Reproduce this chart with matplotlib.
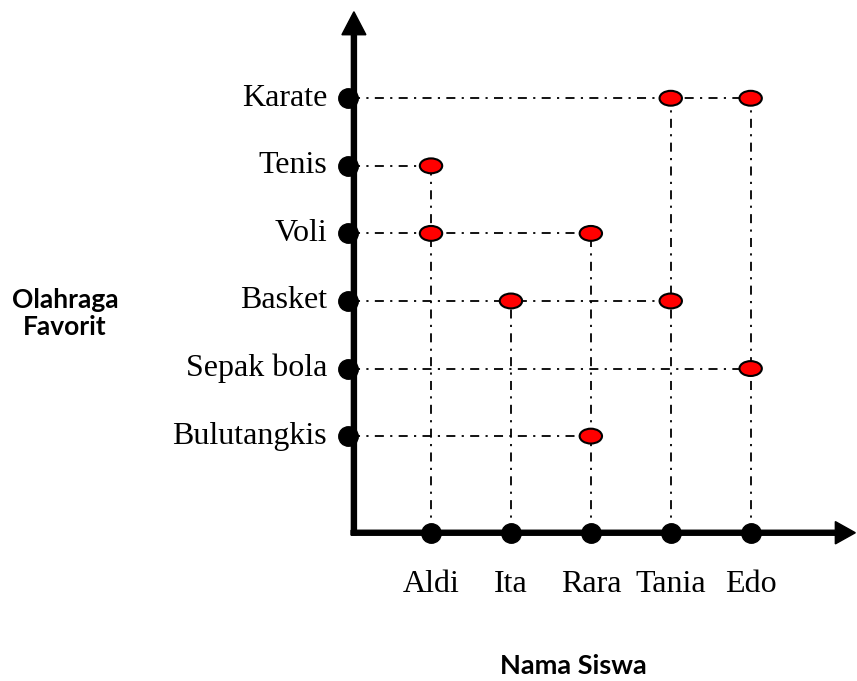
import matplotlib.pyplot as plt
from matplotlib.patches import Ellipse

# siswa (sumbu x) dan olahraga (sumbu y, dari bawah ke atas)
students = ["Aldi", "Ita", "Rara", "Tania", "Edo"]
sports = ["Bulutangkis", "Sepak bola", "Basket", "Voli", "Tenis", "Karate"]

# pasangan siswa -> olahraga favorit
pick_student = ["Aldi", "Aldi", "Ita", "Rara", "Rara", "Tania", "Tania", "Edo", "Edo"]
pick_sport = ["Tenis", "Voli", "Basket", "Voli", "Bulutangkis", "Karate", "Basket", "Karate", "Sepak bola"]

fig = plt.figure(figsize=(8.57, 6.81), dpi=100)
ax = fig.add_axes([0, 0, 1, 1])
ax.set_xlim(-4.394, 6.331)
ax.set_ylim(-2.624, 7.454)
ax.axis("off")

xs = {s: i + 1 for i, s in enumerate(students)}
ys = {s: i + 1 for i, s in enumerate(sports)}
x_base = -0.43  # letak sumbu x

dash = dict(color="black", lw=1.3, linestyle=(0, (5, 3.5, 1.2, 3.5)), zorder=2)

# garis bantu mendatar
for sp in sports:
    cols = [xs[st] for st, s2 in zip(pick_student, pick_sport) if s2 == sp]
    if cols:
        ax.plot([0, max(cols)], [ys[sp], ys[sp]], **dash)

# garis bantu tegak
for st in students:
    rows = [ys[s2] for s1, s2 in zip(pick_student, pick_sport) if s1 == st]
    if rows:
        ax.plot([xs[st], xs[st]], [x_base, max(rows)], **dash)

# sumbu dengan panah
ax.arrow(0.035, -0.46, 0, 7.74, width=0.063, head_width=0.30, head_length=0.34,
         length_includes_head=True, color="black", zorder=4)
ax.arrow(0.0, x_base, 6.31, 0, width=0.074, head_width=0.33, head_length=0.25,
         length_includes_head=True, color="black", zorder=4)

# titik hitam pada sumbu
ax.plot([-0.04] * len(sports), [ys[s] for s in sports], "o", color="black",
        markersize=14, zorder=3)
ax.plot([xs[s] for s in students], [x_base] * len(students), "o", color="black",
        markersize=14, zorder=5)

# titik merah
for st, sp in zip(pick_student, pick_sport):
    ax.add_patch(Ellipse((xs[st], ys[sp]), 0.28, 0.22, facecolor="red",
                         edgecolor="black", lw=1.5, zorder=6))

serif = ["Liberation Serif", "DejaVu Serif"]
for sp in sports:
    ax.text(-0.3, ys[sp], sp, ha="right", va="center", fontsize=23, family=serif)
for st in students:
    ax.text(xs[st], -1.19, st, ha="center", va="center", fontsize=23, family=serif)

sans = ["Lato", "DejaVu Sans"]
ax.text(-3.58, 2.82, "Olahraga\nFavorit", ha="center", va="center", fontsize=19,
        fontweight="bold", family=sans, linespacing=1.15)
ax.text(2.78, -2.40, "Nama Siswa", ha="center", va="center", fontsize=19.5,
        fontweight="bold", family=sans)

fig.savefig("out.png", dpi=100)
